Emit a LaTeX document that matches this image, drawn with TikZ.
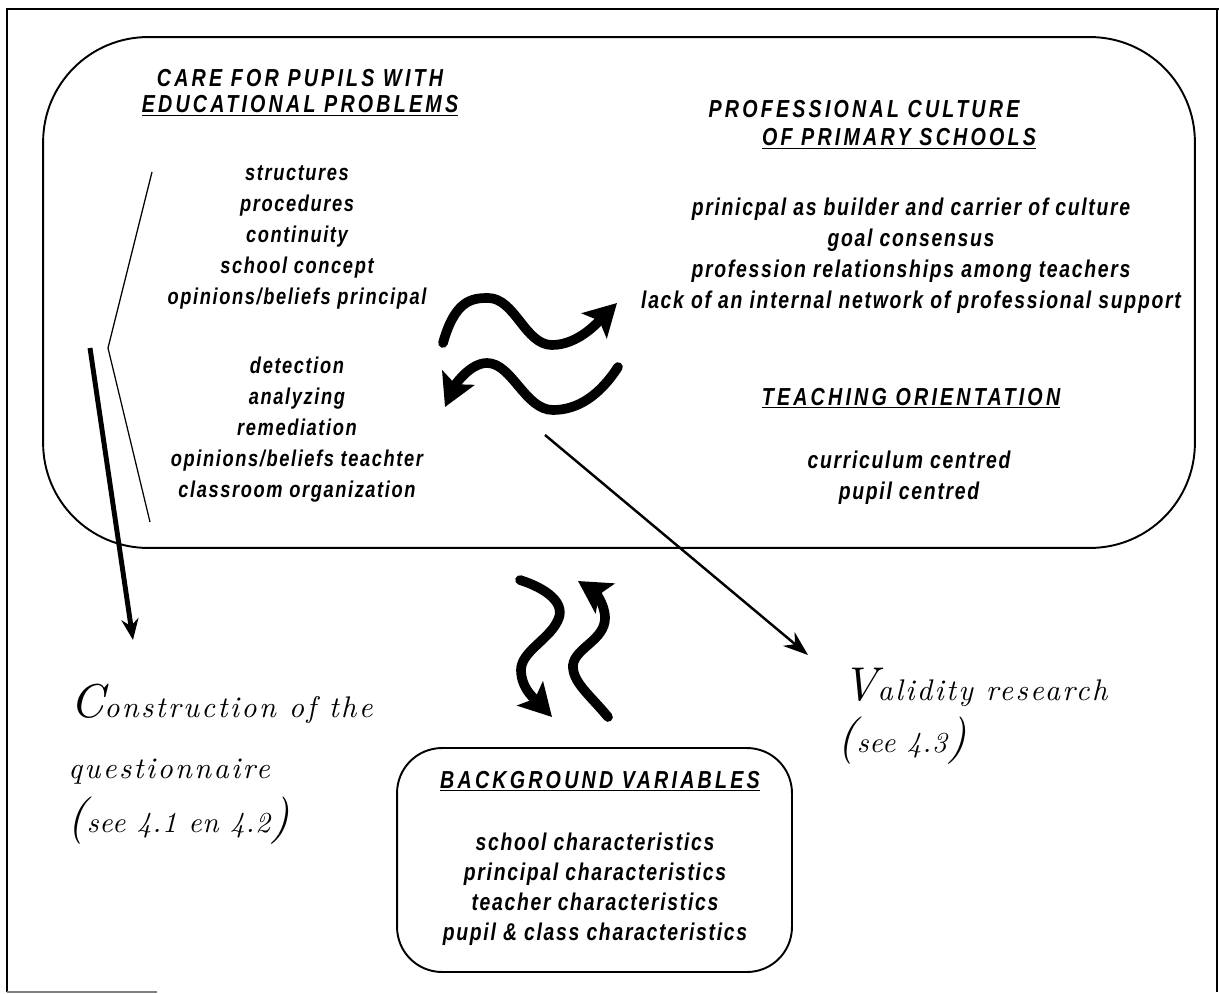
\documentclass[tikz,border=0pt]{standalone}
\usepackage{fontspec}
\usetikzlibrary{arrows.meta}
\newfontfamily\itemfont[FakeStretch=0.8,LetterSpace=7]{Liberation Sans}
\newfontfamily\headfont[FakeStretch=0.8,LetterSpace=13]{Liberation Sans}
\newfontfamily\handfont[Extension=.otf,UprightFont=*-regular,ItalicFont=*-italic,LetterSpace=8]{lmroman10}
\newcommand\bigletter[1]{{\fontsize{27}{27}\selectfont #1}}
\begin{document}
\begin{tikzpicture}[x=0.02cm,y=-0.02cm,
  itm/.style={font=\itemfont\bfseries\itshape\fontsize{13}{17.6}\selectfont, align=center, inner sep=0pt, anchor=base},
  itmb/.style={font=\itemfont\bfseries\itshape\fontsize{13.8}{17.6}\selectfont, align=center, inner sep=0pt, anchor=base},
  hdr/.style={font=\headfont\bfseries\itshape\fontsize{14}{14.8}\selectfont, align=center, inner sep=0pt, anchor=base},
  hand/.style={font=\handfont\itshape\fontsize{17}{17}\selectfont, inner sep=0pt, anchor=base west},
  wave/.style={line width=5.5pt, line cap=round, -{Stealth[length=0.64cm,width=0.7cm,inset=0.14cm]}},
  box/.style={draw, line width=1.1pt, inner sep=0pt}]
\useasboundingbox (0,0) rectangle (1219,993);
% outer frame
\draw[line width=1.2pt] (7,992) -- (7,9) -- (1219,9);
\draw[line width=1pt] (1217,9) -- (1217,992);
\draw[line width=1pt, gray] (7,992) -- (157,992);
% boxes
\node[box, rounded corners=2.1cm, minimum width=23.04cm, minimum height=10.22cm] (main) at (619,292.5) {};
\node[box, rounded corners=0.9cm, minimum width=7.9cm, minimum height=4.48cm] (bgbox) at (594.5,860) {};
% left texts (anchor = baseline of last line)
\node[hdr] (care) at (300,113) {CARE FOR PUPILS WITH\\\underline{EDUCATIONAL PROBLEMS}};
\node[itm] (careA) at (297,304) {structures\\procedures\\continuity\\school concept\\opinions/beliefs principal};
\node[itm] (careB) at (297,497) {detection\\analyzing\\remediation\\opinions/beliefs teachter\\classroom organization};
% right texts
\node[hdr] (profA) at (864,118) {PROFESSIONAL CULTURE};
\node[hdr] (profB) at (899,146) {\underline{OF PRIMARY SCHOOLS}};
\node[itmb] (profI) at (911,308) {prinicpal as builder and carrier of culture\\goal consensus\\profession relationships among teachers\\lack of an internal network of professional support};
\node[hdr] (teach) at (911,405) {\underline{TEACHING ORIENTATION}};
\node[itmb] (teachI) at (909,499) {curriculum centred\\pupil centred};
% background box texts
\node[hdr] (bg) at (600,788) {\underline{BACKGROUND VARIABLES}};
\node[itmb, font=\itemfont\bfseries\itshape\fontsize{13.8}{17}\selectfont] (bgI) at (595,940) {school characteristics\\principal characteristics\\teacher characteristics\\pupil \& class characteristics};
% handwritten labels
\node[hand] (consA) at (70,717) {\bigletter{C}onstruction of the};
\node[hand] (consB) at (68,778) {questionnaire};
\node[hand, font=\handfont\itshape\fontsize{16.5}{16.5}\selectfont\addfontfeature{LetterSpace=3}] (consC) at (67,832) {\bigletter{(}see 4.1 en 4.2\bigletter{)}};
\node[hand] (valA) at (842,700) {\bigletter{V}alidity research};
\node[hand, font=\handfont\itshape\fontsize{16.5}{16.5}\selectfont\addfontfeature{LetterSpace=3}] (valB) at (837,752) {\bigletter{(}see 4.3\bigletter{)}};
% bracket
\coordinate (b1) at (152,172);
\coordinate (b2) at (108,348);
\coordinate (b3) at (150,522);
\draw[line width=0.7pt] (b1) -- (b2) -- (b3);
% straight arrows
\coordinate (q0) at (90,348);
\coordinate (q1) at (133,640);
\draw[line width=2.8pt, -{Stealth[length=0.42cm,width=0.34cm]}] (q0) -- (q1);
\coordinate (v0) at (545,435);
\coordinate (v1) at (808,655);
\draw[line width=1.4pt, -{Stealth[length=0.5cm,width=0.36cm]}] (v0) -- (v1);
% wave arrows
\coordinate (w1s) at (443,343);
\coordinate (w1e) at (617,303);
\draw[wave] (w1s) .. controls (455,300) and (472,298) .. (488,298)
  .. controls (515,298) and (525,345) .. (552,345)
  .. controls (578,345) and (598,322) .. (w1e);
\coordinate (w2s) at (618,367);
\coordinate (w2e) at (445,407);
\draw[wave] (w2s) .. controls (600,395) and (578,410) .. (553,410)
  .. controls (525,410) and (512,363) .. (487,363)
  .. controls (470,363) and (455,385) .. (w2e);
\coordinate (w3s) at (520,580);
\coordinate (w3e) at (552,717);
\draw[wave] (w3s) .. controls (545,588) and (568,603) .. (557,622)
  .. controls (548,640) and (521,652) .. (521,670)
  .. controls (521,690) and (538,702) .. (w3e);
\coordinate (w4s) at (608,717);
\coordinate (w4e) at (578,581);
\draw[wave] (w4s) .. controls (590,695) and (572,682) .. (573,665)
  .. controls (575,648) and (605,640) .. (605,618)
  .. controls (605,602) and (592,590) .. (w4e);
\end{tikzpicture}
\end{document}
